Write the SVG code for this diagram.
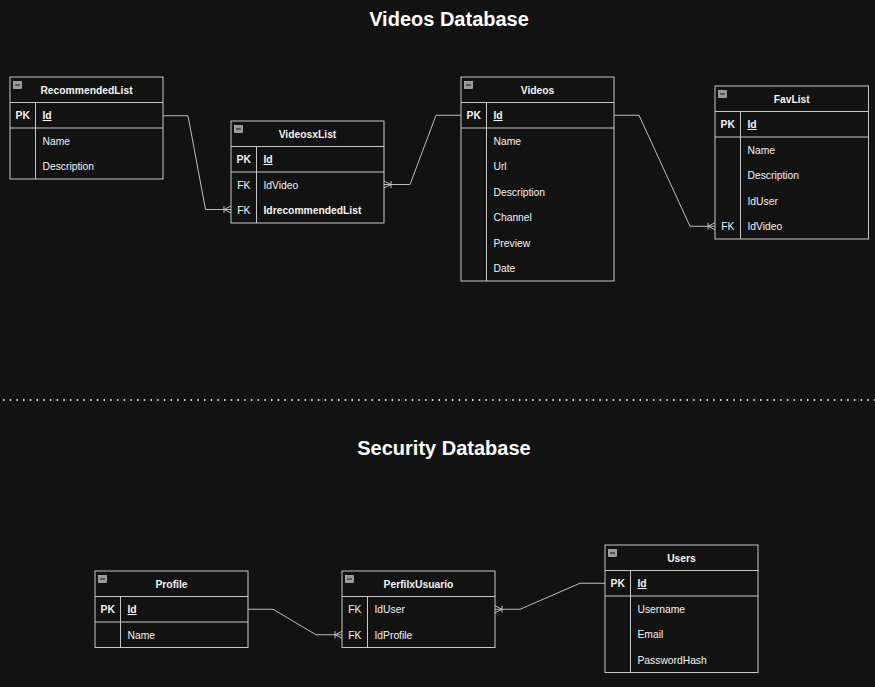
<svg xmlns="http://www.w3.org/2000/svg" width="875" height="687" viewBox="0 0 875 687">
<defs>
<style>
.bg{fill:#121212}
.tbl{fill:#121212;stroke:#c8c8c8;stroke-width:1}
.ln{stroke:#c8c8c8;stroke-width:1;fill:none}
.hdr{font-family:"Liberation Sans",Arial,sans-serif;font-size:10.3px;font-weight:bold;fill:#f4f4f4;text-anchor:middle}
.key{font-family:"Liberation Sans",Arial,sans-serif;font-size:10.3px;font-weight:bold;fill:#f4f4f4;text-anchor:middle}
.fk{font-family:"Liberation Sans",Arial,sans-serif;font-size:10.3px;fill:#f4f4f4;text-anchor:middle}
.fld{font-family:"Liberation Sans",Arial,sans-serif;font-size:10.3px;fill:#f4f4f4}
.pkf{font-family:"Liberation Sans",Arial,sans-serif;font-size:10.3px;font-weight:bold;fill:#f4f4f4;text-decoration:underline}
.bf{font-family:"Liberation Sans",Arial,sans-serif;font-size:10.3px;font-weight:bold;fill:#f4f4f4}
.title{font-family:"Liberation Sans",Arial,sans-serif;font-size:20px;font-weight:bold;fill:#ffffff;text-anchor:middle}
.conn{stroke:#bdbdbd;stroke-width:1;fill:none;marker-end:url(#oneToMany)}
.ico{fill:#9a9a9a;stroke:#cfcfcf;stroke-width:0.6}
.icm{stroke:#2a2a2a;stroke-width:1.2}
</style>
<marker id="oneToMany" markerUnits="userSpaceOnUse" markerWidth="12" markerHeight="12" viewBox="0 0 12 12" refX="10" refY="6" orient="auto">
<path d="M3,6 L10,2.5 M3,6 L10,9.5 M3,2.5 L3,9.5" stroke="#bdbdbd" stroke-width="1" fill="none"/>
</marker>
<g id="icon"><rect class="ico" x="3.5" y="4.5" width="8" height="7"/><line class="icm" x1="5" y1="8" x2="10" y2="8"/></g>
</defs>
<rect class="bg" x="0" y="0" width="875" height="687"/>
<text class="title" x="449" y="26">Videos Database</text>
<text class="title" x="444" y="455">Security Database</text>
<line x1="3" y1="400" x2="875" y2="400" stroke="#d8d8d8" stroke-width="2" stroke-dasharray="1.5 5.2"/>

<g id="connectors">
<path class="conn" d="M163,115.75 H188 L205.5,209.5 H231"/>
<path class="conn" d="M461,115.25 H436 L410,184.5 H384"/>
<path class="conn" d="M614,115.25 H639 L690,226.25 H715"/>
<path class="conn" d="M248,609.25 H273 L316,634.75 H342"/>
<path class="conn" d="M605,583.25 H580 L520,609.25 H495"/>
</g>

<g id="RecommendedList" transform="translate(10,77)">
<rect class="tbl" width="153" height="102"/>
<use href="#icon"/>
<text class="hdr" x="76.5" y="16.5">RecommendedList</text>
<line class="ln" x1="0" y1="25.5" x2="153" y2="25.5"/>
<line class="ln" x1="0" y1="51" x2="153" y2="51"/>
<line class="ln" x1="25.5" y1="25.5" x2="25.5" y2="102"/>
<text class="key" x="12.75" y="42">PK</text>
<text class="pkf" x="32.5" y="42">Id</text>
<text class="fld" x="32.5" y="67.5">Name</text>
<text class="fld" x="32.5" y="93">Description</text>
</g>

<g id="VideosxList" transform="translate(231,121)">
<rect class="tbl" width="153" height="102"/>
<use href="#icon"/>
<text class="hdr" x="76.5" y="16.5">VideosxList</text>
<line class="ln" x1="0" y1="25.5" x2="153" y2="25.5"/>
<line class="ln" x1="0" y1="51" x2="153" y2="51"/>
<line class="ln" x1="25.5" y1="25.5" x2="25.5" y2="102"/>
<text class="key" x="12.75" y="42">PK</text>
<text class="pkf" x="32.5" y="42">Id</text>
<text class="fk" x="12.75" y="67.5">FK</text>
<text class="fld" x="32.5" y="67.5">IdVideo</text>
<text class="fk" x="12.75" y="93">FK</text>
<text class="bf" x="32.5" y="93">IdrecommendedList</text>
</g>

<g id="Videos" transform="translate(461,77)">
<rect class="tbl" width="153" height="204"/>
<use href="#icon"/>
<text class="hdr" x="76.5" y="16.5">Videos</text>
<line class="ln" x1="0" y1="25.5" x2="153" y2="25.5"/>
<line class="ln" x1="0" y1="51" x2="153" y2="51"/>
<line class="ln" x1="25.5" y1="25.5" x2="25.5" y2="204"/>
<text class="key" x="12.75" y="42">PK</text>
<text class="pkf" x="32.5" y="42">Id</text>
<text class="fld" x="32.5" y="67.5">Name</text>
<text class="fld" x="32.5" y="93">Url</text>
<text class="fld" x="32.5" y="118.5">Description</text>
<text class="fld" x="32.5" y="144">Channel</text>
<text class="fld" x="32.5" y="169.5">Preview</text>
<text class="fld" x="32.5" y="195">Date</text>
</g>

<g id="FavList" transform="translate(715,86)">
<rect class="tbl" width="153.5" height="153"/>
<use href="#icon"/>
<text class="hdr" x="76.75" y="16.5">FavList</text>
<line class="ln" x1="0" y1="25.5" x2="153.5" y2="25.5"/>
<line class="ln" x1="0" y1="51" x2="153.5" y2="51"/>
<line class="ln" x1="25.5" y1="25.5" x2="25.5" y2="153"/>
<text class="key" x="12.75" y="42">PK</text>
<text class="pkf" x="32.5" y="42">Id</text>
<text class="fld" x="32.5" y="67.5">Name</text>
<text class="fld" x="32.5" y="93">Description</text>
<text class="fld" x="32.5" y="118.5">IdUser</text>
<text class="fk" x="12.75" y="144">FK</text>
<text class="fld" x="32.5" y="144">IdVideo</text>
</g>

<g id="Profile" transform="translate(95,571)">
<rect class="tbl" width="153" height="76.5"/>
<use href="#icon"/>
<text class="hdr" x="76.5" y="16.5">Profile</text>
<line class="ln" x1="0" y1="25.5" x2="153" y2="25.5"/>
<line class="ln" x1="0" y1="51" x2="153" y2="51"/>
<line class="ln" x1="25.5" y1="25.5" x2="25.5" y2="76.5"/>
<text class="key" x="12.75" y="42">PK</text>
<text class="pkf" x="32.5" y="42">Id</text>
<text class="fld" x="32.5" y="67.5">Name</text>
</g>

<g id="PerfilxUsuario" transform="translate(342,571)">
<rect class="tbl" width="153" height="76.5"/>
<use href="#icon"/>
<text class="hdr" x="76.5" y="16.5">PerfilxUsuario</text>
<line class="ln" x1="0" y1="25.5" x2="153" y2="25.5"/>
<line class="ln" x1="25.5" y1="25.5" x2="25.5" y2="76.5"/>
<text class="fk" x="12.75" y="42">FK</text>
<text class="fld" x="32.5" y="42">IdUser</text>
<text class="fk" x="12.75" y="67.5">FK</text>
<text class="fld" x="32.5" y="67.5">IdProfile</text>
</g>

<g id="Users" transform="translate(605,545)">
<rect class="tbl" width="153" height="127.5"/>
<use href="#icon"/>
<text class="hdr" x="76.5" y="16.5">Users</text>
<line class="ln" x1="0" y1="25.5" x2="153" y2="25.5"/>
<line class="ln" x1="0" y1="51" x2="153" y2="51"/>
<line class="ln" x1="25.5" y1="25.5" x2="25.5" y2="127.5"/>
<text class="key" x="12.75" y="42">PK</text>
<text class="pkf" x="32.5" y="42">Id</text>
<text class="fld" x="32.5" y="67.5">Username</text>
<text class="fld" x="32.5" y="93">Email</text>
<text class="fld" x="32.5" y="118.5">PasswordHash</text>
</g>
</svg>
